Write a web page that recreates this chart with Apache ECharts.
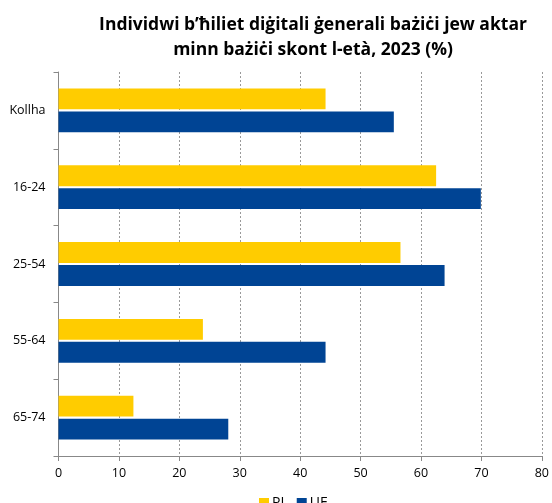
<!DOCTYPE html>
<html><head><meta charset="utf-8">
<script src="https://cdn.jsdelivr.net/npm/echarts@6/dist/echarts.min.js"></script>
<style>html,body{margin:0;padding:0;background:#fff}#c{width:552px;height:503px}</style>
</head><body><div id="c"></div>
<script>
const categories = ['Kollha', '16-24', '25-54', '55-64', '65-74'];
const seriesPL = [44.2, 62.5, 56.6, 23.9, 12.4];
const seriesUE = [55.5, 69.9, 63.9, 44.2, 28.1];
const xTicks = {min: 0, max: 80, interval: 10};
const titleText = 'Individwi b’ħiliet diġitali ġenerali bażiċi jew aktar\nminn bażiċi skont l-età, 2023 (%)';

const chart = echarts.init(document.getElementById('c'), null, {renderer: 'canvas'});
const font = 'Open Sans';
chart.setOption({
  animation: false,
  title: {
    text: titleText, left: 308, top: 8, textAlign: 'center',
    textStyle: {fontFamily: font, fontSize: 17.5, fontWeight: 'bold', color: '#000', lineHeight: 25}
  },
  legend: {
    top: 491, left: 254, itemWidth: 10, itemHeight: 10, itemGap: 9,
    textStyle: {fontFamily: font, fontSize: 14, color: '#000', padding: [0, 0, 0, -2]},
    data: [{name: 'PL', icon: 'rect'}, {name: 'UE', icon: 'rect'}]
  },
  grid: {left: 58.5, right: 6, top: 72, bottom: 47, containLabel: false},
  xAxis: {
    type: 'value', min: xTicks.min, max: xTicks.max, interval: xTicks.interval,
    axisLine: {show: true, lineStyle: {color: '#888'}},
    axisTick: {show: true, length: 5, lineStyle: {color: '#888'}},
    axisLabel: {fontFamily: font, fontSize: 12.5, color: '#000', margin: 11},
    splitLine: {show: true, lineStyle: {color: '#999', type: [2, 2], width: 1}}
  },
  yAxis: {
    type: 'category', data: categories, inverse: true,
    axisLine: {show: true, lineStyle: {color: '#888'}},
    axisTick: {show: true, length: 5, lineStyle: {color: '#888'}},
    axisLabel: {fontFamily: font, fontSize: 12.5, color: '#000', margin: 13}
  },
  series: [
    {name: 'PL', type: 'bar', data: seriesPL, itemStyle: {color: '#FFCC00'}, barCategoryGap: '43%', barGap: '10%'},
    {name: 'UE', type: 'bar', data: seriesUE, itemStyle: {color: '#004494'}, barCategoryGap: '43%', barGap: '10%'}
  ]
});
</script></body></html>
